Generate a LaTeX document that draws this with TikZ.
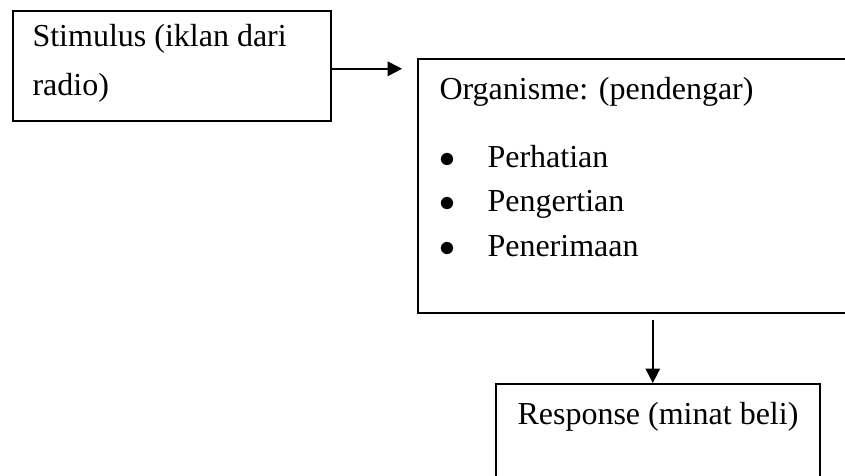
\documentclass[tikz,border=0pt]{standalone}
\usepackage{fontspec}
\setmainfont{Liberation Serif}
\usetikzlibrary{positioning,calc,arrows.meta}

\begin{document}
\begin{tikzpicture}[x=0.375pt, y=-0.375pt,
  box/.style={rectangle, draw, line width=0.65pt, anchor=north west, inner sep=0pt},
  txt/.style={inner sep=0pt, anchor=base west, font=\fontsize{12}{14}\selectfont},
  flow/.style={line width=0.65pt, -{Triangle[length=5.4pt, width=5.4pt]}}]

\clip (0,0) rectangle (845,475);

% BOXES

\node [box, minimum width=119.25pt, minimum height=41.25pt] (stimulus) at (12,10) {};

\node [box, minimum width=181pt, minimum height=95.25pt] (organisme) at (417,58) {};

\node [box, minimum width=121.5pt, minimum height=52.5pt] (response) at (495,383) {};

% TEXTS

\node [txt] (stimulusone) at ($(stimulus.north west)+(20,37)$) {Stimulus (iklan dari};
\node [txt, below=18pt of stimulusone.base west, anchor=base west] (stimulustwo) {radio)};

\node [txt] (organismetitle) at ($(organisme.north west)+(22,41)$) {Organisme: (pendengar)};
\node [txt, below=25.5pt of organismetitle.base west, anchor=base west] (itemone)
  {\makebox[18pt][l]{$\bullet$}Perhatian};
\node [txt, below=16.7pt of itemone.base west, anchor=base west] (itemtwo)
  {\makebox[18pt][l]{$\bullet$}Pengertian};
\node [txt, below=16.7pt of itemtwo.base west, anchor=base west] (itemthree)
  {\makebox[18pt][l]{$\bullet$}Penerimaan};

\node [txt] (responsetitle) at ($(response.north west)+(22,41)$) {Response (minat beli)};

% ARROWS

\draw [flow, shorten >=5.6pt] ([yshift=-1.1pt]stimulus.east) -- ([yshift=-1.1pt]stimulus.east -| organisme.west);

\draw [flow, shorten <=2.25pt] ([xshift=-1.9pt]response.north |- organisme.south) -- ([xshift=-1.9pt]response.north);

\end{tikzpicture}
\end{document}
